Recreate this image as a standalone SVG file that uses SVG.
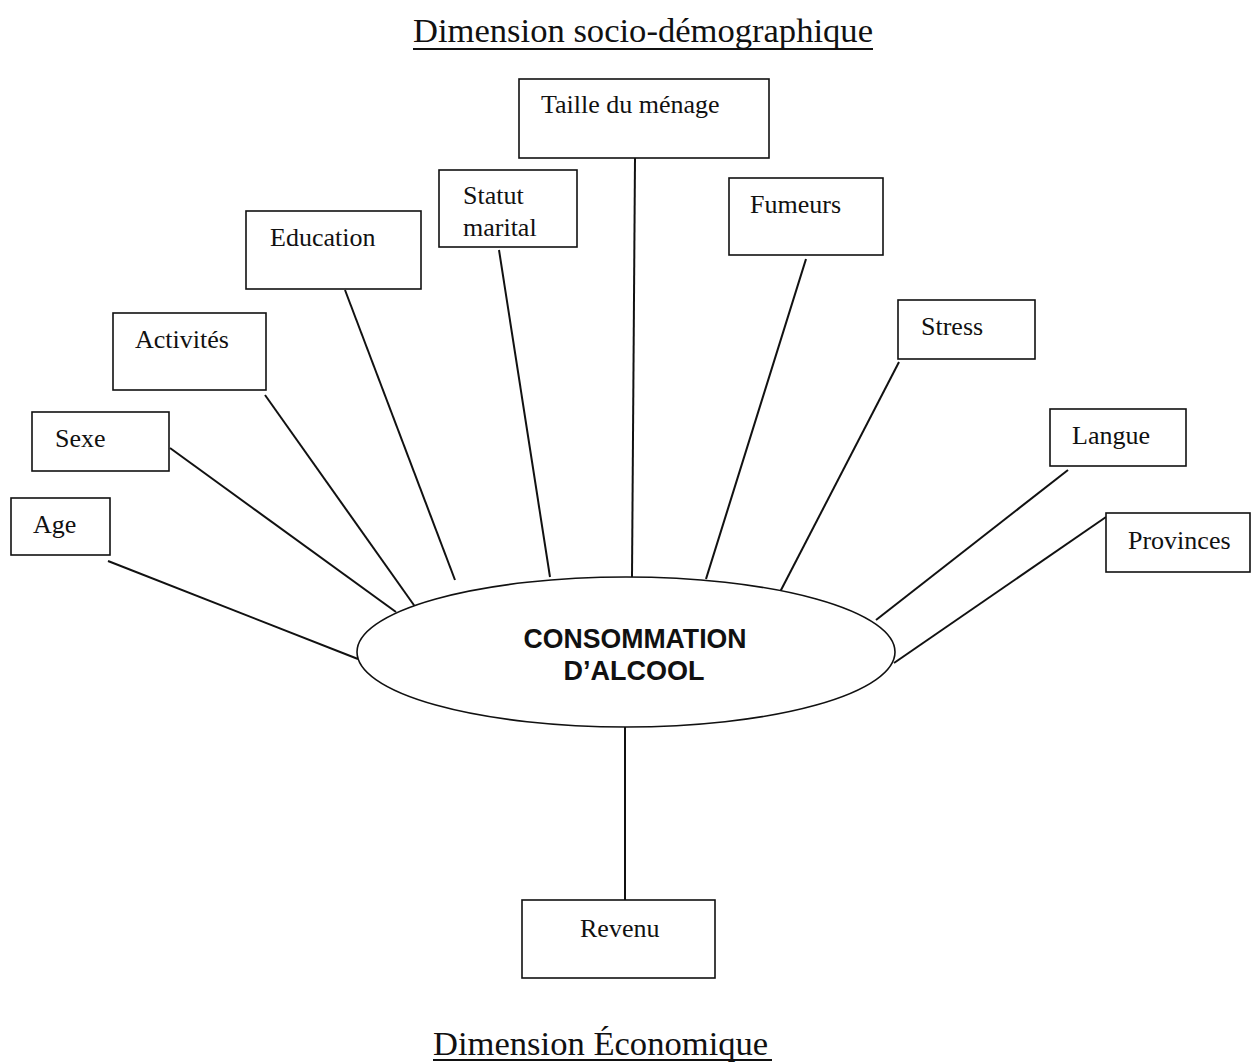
<svg xmlns="http://www.w3.org/2000/svg" width="1251" height="1064" viewBox="0 0 1251 1064">
<style>
.box{fill:#fff;stroke:#111;stroke-width:1.6}
.lbl{font-family:"Liberation Serif","Times New Roman",serif;font-size:26px;fill:#111}
.title{font-family:"Liberation Serif","Times New Roman",serif;font-size:34.6px;fill:#111}
.uline{stroke:#111;stroke-width:1.8}
.ctr{font-family:"Liberation Sans",Arial,sans-serif;font-size:27px;font-weight:bold;fill:#111;text-anchor:middle}
.conn line{stroke:#111;stroke-width:2}
</style>
<rect width="1251" height="1064" fill="#fff"/>
<g id="title-top">
<text class="title" x="413" y="42">Dimension socio-démographique</text>
<line class="uline" x1="413" y1="49" x2="873" y2="49"/>
</g>
<g id="title-bottom">
<text class="title" x="433" y="1055">Dimension Économique</text>
<line class="uline" x1="433" y1="1060" x2="772" y2="1060"/>
</g>
<g class="conn" id="connectors">
<line x1="108" y1="561" x2="358" y2="659"/>
<line x1="170" y1="448" x2="396" y2="612"/>
<line x1="265" y1="395" x2="416" y2="608"/>
<line x1="345" y1="290" x2="455" y2="580"/>
<line x1="499" y1="250" x2="550" y2="577"/>
<line x1="635" y1="158" x2="632" y2="577"/>
<line x1="806" y1="259" x2="706" y2="579"/>
<line x1="899" y1="362" x2="780" y2="592"/>
<line x1="1068" y1="470" x2="876" y2="620"/>
<line x1="1106" y1="517" x2="894" y2="663"/>
<line x1="625" y1="727" x2="625" y2="900"/>
</g>
<g id="center">
<ellipse cx="626" cy="652" rx="269" ry="75" fill="#fff" stroke="#111" stroke-width="1.6"/>
<text class="ctr" x="635" y="648" textLength="223" lengthAdjust="spacingAndGlyphs">CONSOMMATION</text>
<text class="ctr" x="634" y="680">D’ALCOOL</text>
</g>
<g id="taille"><rect class="box" x="519" y="79" width="250" height="79"/><text class="lbl" x="541" y="113">Taille du ménage</text></g>
<g id="statut"><rect class="box" x="439" y="170" width="138" height="77"/><text class="lbl" x="463" y="204">Statut</text><text class="lbl" x="463" y="236">marital</text></g>
<g id="fumeurs"><rect class="box" x="729" y="178" width="154" height="77"/><text class="lbl" x="750" y="213">Fumeurs</text></g>
<g id="education"><rect class="box" x="246" y="211" width="175" height="78"/><text class="lbl" x="270" y="246">Education</text></g>
<g id="activites"><rect class="box" x="113" y="313" width="153" height="77"/><text class="lbl" x="135" y="348">Activités</text></g>
<g id="stress"><rect class="box" x="898" y="300" width="137" height="59"/><text class="lbl" x="921" y="335">Stress</text></g>
<g id="sexe"><rect class="box" x="32" y="412" width="137" height="59"/><text class="lbl" x="55" y="447">Sexe</text></g>
<g id="langue"><rect class="box" x="1050" y="409" width="136" height="57"/><text class="lbl" x="1072" y="444">Langue</text></g>
<g id="age"><rect class="box" x="11" y="498" width="99" height="57"/><text class="lbl" x="33" y="533">Age</text></g>
<g id="provinces"><rect class="box" x="1106" y="513" width="144" height="59"/><text class="lbl" x="1128" y="549">Provinces</text></g>
<g id="revenu"><rect class="box" x="522" y="900" width="193" height="78"/><text class="lbl" x="580" y="937">Revenu</text></g>
</svg>
